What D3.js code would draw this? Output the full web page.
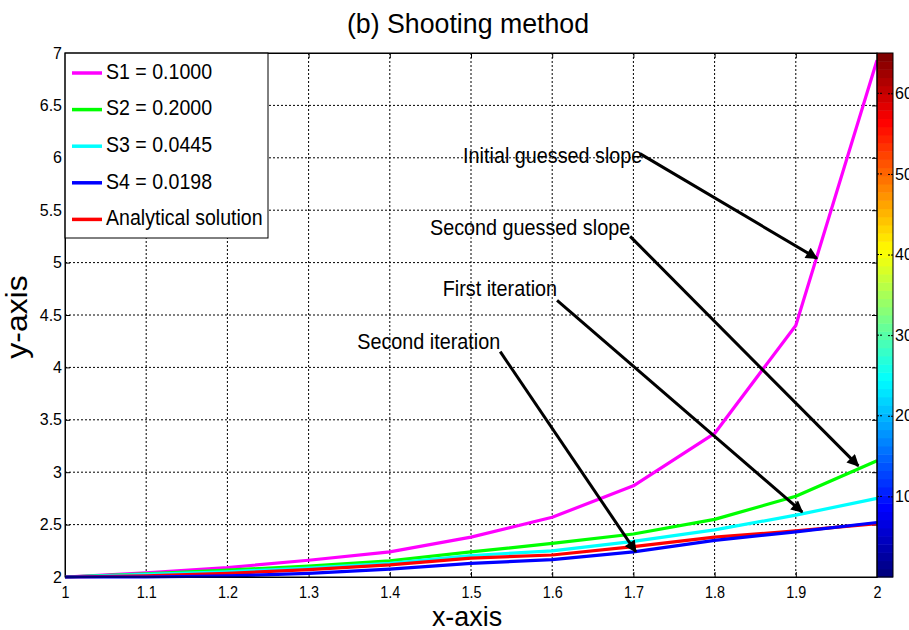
<!DOCTYPE html>
<html>
<head>
<meta charset="utf-8">
<script src="https://cdn.jsdelivr.net/npm/d3@7"></script>
<style>
  body { margin: 0; background: #fff; }
  text { font-family: "Liberation Sans", Arial, sans-serif; fill: #000; }
</style>
</head>
<body>
<svg id="chart" width="909" height="630"></svg>
<script>
// data
var xs = [1, 1.1, 1.2, 1.3, 1.4, 1.5, 1.6, 1.7, 1.8, 1.9, 2];
var s1 = [2, 2.04, 2.09, 2.16, 2.24, 2.38, 2.57, 2.87, 3.37, 4.40, 6.93];
var s2 = [2, 2.03, 2.065, 2.105, 2.155, 2.24, 2.32, 2.41, 2.55, 2.77, 3.11];
var s3 = [2, 2.025, 2.05, 2.085, 2.13, 2.205, 2.25, 2.34, 2.45, 2.59, 2.75];
var s4 = [2, 2.0, 2.01, 2.035, 2.075, 2.13, 2.165, 2.24, 2.35, 2.43, 2.52];
var analytic = [2, 2.01, 2.035, 2.07, 2.115, 2.18, 2.21, 2.29, 2.38, 2.44, 2.51];
var seriesNames = ["S1 = 0.1000", "S2 = 0.2000", "S3 = 0.0445", "S4 = 0.0198", "Analytical solution"];
var seriesColors = ["#ff00ff", "#00ff00", "#00ffff", "#0000ff", "#ff0000"];
var xTicks = [1, 1.1, 1.2, 1.3, 1.4, 1.5, 1.6, 1.7, 1.8, 1.9, 2];
var yTicks = [2, 2.5, 3, 3.5, 4, 4.5, 5, 5.5, 6, 6.5, 7];
var cbarTicks = [10, 20, 30, 40, 50, 60];
// annotations: text end point and arrow tip, in data units
var notes = [
  { label: "Initial guessed slope", tx: 1.711, ty: 6.01, x0: 1.708, y0: 6.04, x1: 1.926, y1: 5.04 },
  { label: "Second guessed slope", tx: 1.696, ty: 5.32, x0: 1.696, y0: 5.25, x1: 1.977, y1: 3.06 },
  { label: "First iteration", tx: 1.606, ty: 4.74, x0: 1.606, y0: 4.64, x1: 1.908, y1: 2.62 },
  { label: "Second iteration", tx: 1.536, ty: 4.23, x0: 1.536, y0: 4.15, x1: 1.703, y1: 2.24 }
];

var svg = d3.select("#chart");
var m = { l: 65, r: 877, t: 53, b: 577 };

var x = d3.scaleLinear().domain([1, 2]).range([m.l, m.r]);
var y = d3.scaleLinear().domain([2, 7]).range([m.b, m.t]);

// condensed look: squeeze text horizontally
function narrowText(g, px, py, size, sx, str) {
  return g.append("text")
    .attr("transform", "translate(" + px + "," + py + ") scale(" + sx + ",1)")
    .attr("font-size", size).text(str);
}

svg.append("defs").append("marker")
  .attr("id", "head")
  .attr("viewBox", "0 0 10 10")
  .attr("refX", 9).attr("refY", 5)
  .attr("markerWidth", 5).attr("markerHeight", 4)
  .attr("markerUnits", "strokeWidth")
  .attr("orient", "auto")
  .append("path").attr("d", "M0,0 L10,5 L0,10 Z").attr("fill", "#000");

// grid
svg.append("g").selectAll("line")
  .data(xTicks.slice(1, -1)).enter().append("line")
  .attr("x1", function(d) { return x(d); }).attr("x2", function(d) { return x(d); })
  .attr("y1", m.t).attr("y2", m.b)
  .attr("stroke", "#000").attr("stroke-width", 1).attr("stroke-dasharray", "2,2");
svg.append("g").selectAll("line")
  .data(yTicks.slice(1, -1)).enter().append("line")
  .attr("x1", m.l).attr("x2", m.r)
  .attr("y1", function(d) { return y(d); }).attr("y2", function(d) { return y(d); })
  .attr("stroke", "#000").attr("stroke-width", 1).attr("stroke-dasharray", "2,2");

// axes
var xAxis = svg.append("g").attr("transform", "translate(0," + m.b + ")")
  .call(d3.axisBottom(x).tickValues(xTicks).tickFormat(d3.format("")).tickSizeInner(-5).tickSizeOuter(0).tickPadding(10));
var yAxis = svg.append("g").attr("transform", "translate(" + m.l + ",0)")
  .call(d3.axisLeft(y).tickValues(yTicks).tickFormat(d3.format("")).tickSizeInner(-5).tickSizeOuter(0).tickPadding(3));
[xAxis, yAxis].forEach(function(g) {
  g.select(".domain").attr("stroke", "#000");
  g.selectAll("text").attr("font-size", 16).attr("font-family", null);
});
xAxis.selectAll("text").attr("transform", "scale(0.9,1)");
svg.append("g").attr("transform", "translate(0," + m.t + ")")
  .call(d3.axisTop(x).tickValues(xTicks).tickFormat("").tickSizeInner(-5).tickSizeOuter(0));
svg.append("g").attr("transform", "translate(" + m.r + ",0)")
  .call(d3.axisRight(y).tickValues(yTicks).tickFormat("").tickSizeInner(-5).tickSizeOuter(0));

// lines
var allSeries = [s1, s2, s3, s4, analytic];
var line = d3.line().x(function(d, i) { return x(xs[i]); }).y(function(d) { return y(d); });
var drawOrder = [0, 1, 2, 4, 3];
drawOrder.forEach(function(k) {
  svg.append("path").datum(allSeries[k])
    .attr("d", line).attr("fill", "none")
    .attr("stroke", seriesColors[k]).attr("stroke-width", 3.2)
    .attr("stroke-linejoin", "round");
});

// annotations
var ng = svg.append("g");
notes.forEach(function(d) {
  narrowText(ng, x(d.tx), y(d.ty), 22, 0.9, d.label)
    .attr("text-anchor", "end").attr("dominant-baseline", "middle");
});
svg.append("g").selectAll("line").data(notes).enter().append("line")
  .attr("x1", function(d) { return x(d.x0); }).attr("y1", function(d) { return y(d.y0); })
  .attr("x2", function(d) { return x(d.x1); }).attr("y2", function(d) { return y(d.y1); })
  .attr("stroke", "#000").attr("stroke-width", 3)
  .attr("marker-end", "url(#head)");

// legend
var lg = svg.append("g");
lg.append("rect").attr("x", 65).attr("y", 53).attr("width", 203).attr("height", 185)
  .attr("fill", "#fff").attr("stroke", "#000").attr("stroke-width", 1);
seriesNames.forEach(function(name, i) {
  var ry = 73 + i * 36.6;
  lg.append("line").attr("x1", 72).attr("x2", 102).attr("y1", ry).attr("y2", ry)
    .attr("stroke", seriesColors[i]).attr("stroke-width", 3.5);
  narrowText(lg, 106, ry, 22, 0.89, name).attr("dominant-baseline", "middle");
});

// colorbar (jet, 64 levels)
var levels = d3.range(64);
function jet(v) {
  var t = v / 63;
  function c(a) { return Math.max(0, Math.min(1, a)); }
  var r = c(1.5 - Math.abs(4 * t - 3));
  var g = c(1.5 - Math.abs(4 * t - 2));
  var b = c(1.5 - Math.abs(4 * t - 1));
  return d3.rgb(r * 255, g * 255, b * 255).toString();
}
var cells = d3.scaleLinear().domain([0, 64]).range([m.b, m.t]);
var cb = d3.scaleLinear().domain([0, 65]).range([m.b, m.t]);
var cbg = svg.append("g");
cbg.selectAll("rect").data(levels).enter().append("rect")
  .attr("x", 877).attr("width", 16)
  .attr("y", function(d) { return cells(d + 1); })
  .attr("height", function(d) { return cells(d) - cells(d + 1) + 0.5; })
  .attr("fill", function(d) { return jet(d); });
cbg.append("rect").attr("x", 877).attr("y", m.t).attr("width", 16).attr("height", m.b - m.t)
  .attr("fill", "none").attr("stroke", "#000");
var cax = cbg.append("g").attr("transform", "translate(893,0)")
  .call(d3.axisRight(cb).tickValues(cbarTicks).tickSizeInner(-5).tickSizeOuter(0).tickPadding(2));
cax.select(".domain").remove();
cax.selectAll("line").attr("stroke", "#000").attr("stroke-dasharray", "2,1");
cax.selectAll("text").attr("font-size", 16).attr("font-family", null);
cbg.selectAll("line.cl").data(cbarTicks).enter().append("line")
  .attr("x1", 877).attr("x2", 882)
  .attr("y1", function(d) { return cb(d); }).attr("y2", function(d) { return cb(d); })
  .attr("stroke", "#000").attr("stroke-dasharray", "2,1");

// plot frame
svg.append("rect").attr("x", m.l).attr("y", m.t).attr("width", m.r - m.l).attr("height", m.b - m.t)
  .attr("fill", "none").attr("stroke", "#000");

// titles
narrowText(svg, 468, 33, 28, 0.955, "(b) Shooting method").attr("text-anchor", "middle");
narrowText(svg, 467, 626, 28, 0.96, "x-axis").attr("text-anchor", "middle");
svg.append("text").attr("transform", "translate(27,317) rotate(-90) scale(1.1,1)").attr("text-anchor", "middle")
  .attr("font-size", 29).text("y-axis");
</script>
</body>
</html>
